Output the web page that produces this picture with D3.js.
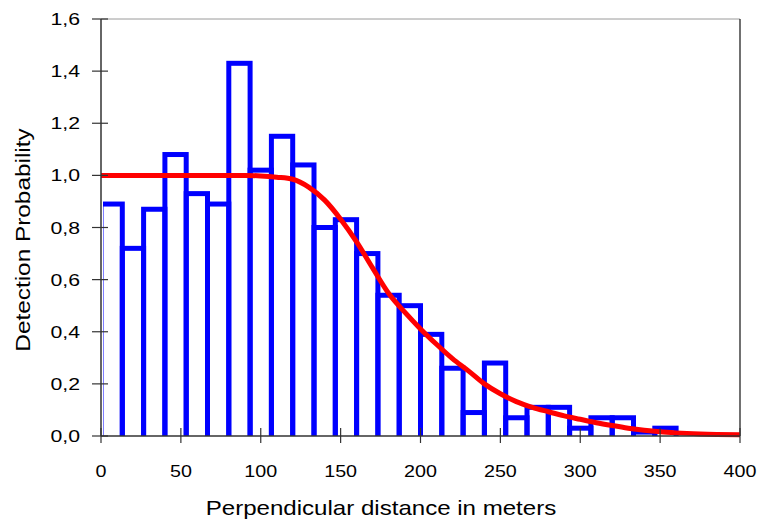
<!DOCTYPE html>
<html>
<head>
<meta charset="utf-8">
<script src="https://cdn.jsdelivr.net/npm/d3@7"></script>
<style>
  html, body { margin: 0; padding: 0; background: #fff; }
  svg { display: block; font-family: "Liberation Sans", Arial, sans-serif; }
</style>
</head>
<body>
<svg id="chart" width="760" height="521"></svg>
<script>
// ---- data ----
const binWidth = 400 / 30;
const detectionBars = [0.89, 0.72, 0.87, 1.08, 0.93, 0.89, 1.43, 1.02, 1.15, 1.04,
                       0.80, 0.83, 0.70, 0.54, 0.50, 0.39, 0.26, 0.09, 0.28, 0.07,
                       0.11, 0.11, 0.03, 0.07, 0.07, 0.015, 0.03];
const curveX = [0, 50, 90, 100, 110, 120, 130, 140, 150, 160, 170, 180, 190, 200, 210, 220,
                230, 240, 250, 260, 270, 280, 290, 300, 310, 320, 330, 340, 350, 360, 375, 400];
const curveY = [1.0, 1.0, 1.0, 0.998, 0.993, 0.985, 0.955, 0.905, 0.832, 0.745, 0.645, 0.548,
                0.476, 0.411, 0.352, 0.297, 0.25, 0.2, 0.162, 0.132, 0.11, 0.093, 0.077, 0.064,
                0.051, 0.04, 0.03, 0.022, 0.016, 0.012, 0.008, 0.005];
const xTicks = [0, 50, 100, 150, 200, 250, 300, 350, 400];
const yTicks = [0, 0.2, 0.4, 0.6, 0.8, 1.0, 1.2, 1.4, 1.6];
const xTitle = "Perpendicular distance in meters";
const yTitle = "Detection Probability";

// ---- layout ----
const L = 101, R = 740, T = 19, B = 436;
const svg = d3.select("#chart");
const x = d3.scaleLinear().domain([0, 400]).range([L, R]);
const y = d3.scaleLinear().domain([0, 1.6]).range([B, T]);

const defs = svg.append("defs");
defs.append("clipPath").attr("id", "barclip")
  .append("rect").attr("x", L + 2).attr("y", T).attr("width", R - L - 2).attr("height", B - T);
defs.append("clipPath").attr("id", "lineclip")
  .append("rect").attr("x", L).attr("y", T).attr("width", R - L).attr("height", B - T + 3);

// plot border (top light, right dark)
svg.append("line").attr("x1", L).attr("x2", R).attr("y1", T).attr("y2", T)
  .attr("stroke", "#9a9a9a").attr("stroke-width", 1);
svg.append("line").attr("x1", R).attr("x2", R).attr("y1", T).attr("y2", B)
  .attr("stroke", "#111").attr("stroke-width", 1.2);

// bars
svg.append("g").attr("clip-path", "url(#barclip)")
  .selectAll("rect.bar").data(detectionBars).enter().append("rect")
  .attr("class", "bar")
  .attr("x", (d, i) => x(i * binWidth))
  .attr("width", (d, i) => x((i + 1) * binWidth) - x(i * binWidth))
  .attr("y", d => y(d))
  .attr("height", d => B - y(d) + 5)
  .attr("fill", "none")
  .attr("stroke", "#0000ff")
  .attr("stroke-width", 5);

// curve
const pts = curveX.map((v, i) => [v, curveY[i]]);
svg.append("g").attr("clip-path", "url(#lineclip)")
  .append("path").datum(pts)
  .attr("fill", "none")
  .attr("stroke", "#ff0000")
  .attr("stroke-width", 5)
  .attr("d", d3.line().x(d => x(d[0])).y(d => y(d[1])).curve(d3.curveMonotoneX));

// axes
const xAxis = svg.append("g");
xAxis.append("line").attr("x1", L).attr("x2", R).attr("y1", B).attr("y2", B)
  .attr("stroke", "#333").attr("stroke-width", 1.5);
xAxis.selectAll("line.tick").data(xTicks).enter().append("line")
  .attr("x1", d => x(d)).attr("x2", d => x(d)).attr("y1", B - 8).attr("y2", B + 7)
  .attr("stroke", "#333").attr("stroke-width", 1.2);
xAxis.selectAll("text").data(xTicks).enter().append("text")
  .attr("transform", d => `translate(${x(d)},477) scale(1.16,1)`)
  .attr("text-anchor", "middle").attr("font-size", 17).attr("fill", "#000")
  .text(d => d);

const yAxis = svg.append("g");
yAxis.append("line").attr("x1", L).attr("x2", L).attr("y1", T).attr("y2", B)
  .attr("stroke", "#333").attr("stroke-width", 1.5);
yAxis.selectAll("line.tick").data(yTicks).enter().append("line")
  .attr("x1", L - 9).attr("x2", L + 7).attr("y1", d => y(d)).attr("y2", d => y(d))
  .attr("stroke", "#333").attr("stroke-width", 1.2);
yAxis.selectAll("text").data(yTicks).enter().append("text")
  .attr("transform", d => `translate(80,${y(d) + 6}) scale(1.25,1)`)
  .attr("text-anchor", "end").attr("font-size", 17).attr("fill", "#000")
  .text(d => d3.format(".1f")(d).replace(".", ","));

// titles
svg.append("text").attr("transform", "translate(381,515) scale(1.147,1)")
  .attr("text-anchor", "middle").attr("font-size", 21).attr("fill", "#000")
  .text(xTitle);
svg.append("text").attr("transform", "translate(30,240) rotate(-90) scale(1.16,1)")
  .attr("text-anchor", "middle").attr("font-size", 21).attr("fill", "#000")
  .text(yTitle);
</script>
</body>
</html>
